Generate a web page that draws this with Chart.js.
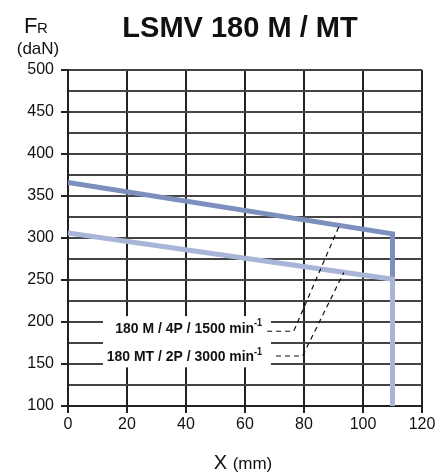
<!DOCTYPE html>
<html>
<head>
<meta charset="utf-8">
<script src="https://cdn.jsdelivr.net/npm/chart.js@4.4.1/dist/chart.umd.min.js"></script>
<style>
  html, body { margin: 0; padding: 0; background: #fff; }
  #c { display: block; }
</style>
</head>
<body>
<canvas id="c" width="447" height="473"></canvas>
<script>
// Données
const title = 'LSMV 180 M / MT';
const xTicks = [0, 20, 40, 60, 80, 100, 120];
const yTicks = [100, 150, 200, 250, 300, 350, 400, 450, 500];

const xPoints = [0, 110, 110];
const fr4p = [366, 305, 252];   // 180 M / 4P / 1500 min-1
const fr2p = [306, 251, 100];   // 180 MT / 2P / 3000 min-1

const seriesLabels = ['180 M / 4P / 1500 min', '180 MT / 2P / 3000 min'];

// lignes de rappel (pointillés) vers les courbes
const leader4pX = [67.5, 76.5, 92];
const leader4pY = [189, 189, 315];
const leader2pX = [70.5, 79.5, 93.5];
const leader2pY = [159.5, 159.5, 259];

function pts(xs, ys) {
    return xs.map((x, i) => ({ x: x, y: ys[i] }));
}

const FONT = "'Liberation Sans', Arial, sans-serif";

// étiquettes dans le graphique (ancre = fin du texte, en coordonnées de données)
const labelAnchors = [
    { x: 65.8, y: 192 },
    { x: 65.8, y: 158.5 }
];

const textPlugin = {
    id: 'textPlugin',
    beforeDatasetsDraw(chart) {
        const ctx = chart.ctx;
        const xs = chart.scales.x, ys = chart.scales.y;
        ctx.save();
        // fond blanc derrière les étiquettes
        ctx.fillStyle = '#fff';
        const top = ys.getPixelForValue(207);
        ctx.fillRect(xs.left + 35, top, 168, ys.getPixelForValue(146) - top);
        ctx.fillStyle = '#111';
        ctx.textBaseline = 'middle';
        labelAnchors.forEach((a, i) => {
            const px = xs.getPixelForValue(a.x);
            const py = ys.getPixelForValue(a.y);
            ctx.save();
            ctx.translate(px, py);
            ctx.scale(0.9, 1);
            ctx.textAlign = 'right';
            ctx.font = 'bold 10px ' + FONT;
            const supW = ctx.measureText('-1').width;
            ctx.fillText('-1', 0, -5);
            ctx.font = 'bold 15.5px ' + FONT;
            ctx.fillText(seriesLabels[i], -supW, 0);
            ctx.restore();
        });
        ctx.restore();
    },
    afterDraw(chart) {
        const ctx = chart.ctx;
        ctx.save();
        ctx.fillStyle = '#111';
        ctx.textBaseline = 'alphabetic';
        // titre
        ctx.font = 'bold 29px ' + FONT;
        ctx.textAlign = 'center';
        ctx.fillText(title, 240, 37);
        // FR (daN)
        ctx.textAlign = 'left';
        ctx.font = '22px ' + FONT;
        ctx.fillText('F', 24, 33);
        ctx.font = '15px ' + FONT;
        ctx.fillText('R', 37, 33);
        ctx.textAlign = 'center';
        ctx.font = '17px ' + FONT;
        ctx.fillText('(daN)', 38, 54);
        // X (mm)
        ctx.textAlign = 'left';
        ctx.font = '20px ' + FONT;
        const wX = ctx.measureText('X ').width;
        ctx.font = '17px ' + FONT;
        const wMm = ctx.measureText('(mm)').width;
        const start = 243 - (wX + wMm) / 2;
        ctx.font = '20px ' + FONT;
        ctx.fillText('X', start, 469);
        ctx.font = '17px ' + FONT;
        ctx.fillText('(mm)', start + wX, 469);
        ctx.restore();
    }
};

const chart = new Chart(document.getElementById('c').getContext('2d'), {
    type: 'line',
    data: {
        datasets: [
            {
                label: seriesLabels[0],
                data: pts(xPoints, fr4p),
                borderColor: '#7d90bd',
                borderWidth: 5,
                pointRadius: 0,
                borderCapStyle: 'butt',
                borderJoinStyle: 'miter',
                tension: 0,
                order: 2
            },
            {
                label: seriesLabels[1],
                data: pts(xPoints, fr2p),
                borderColor: '#a8b5d7',
                borderWidth: 5,
                pointRadius: 0,
                borderCapStyle: 'butt',
                borderJoinStyle: 'miter',
                tension: 0,
                order: 1
            },
            {
                data: pts(leader4pX, leader4pY),
                borderColor: '#111',
                borderWidth: 1.2,
                borderDash: [5, 4],
                pointRadius: 0,
                tension: 0,
                order: 0
            },
            {
                data: pts(leader2pX, leader2pY),
                borderColor: '#111',
                borderWidth: 1.2,
                borderDash: [5, 4],
                pointRadius: 0,
                tension: 0,
                order: 0
            }
        ]
    },
    options: {
        responsive: false,
        animation: false,
        devicePixelRatio: 1,
        layout: { padding: { top: 70, right: 25, left: 0, bottom: 0 } },
        plugins: {
            legend: { display: false },
            tooltip: { enabled: false },
            title: { display: false }
        },
        scales: {
            x: {
                type: 'linear',
                min: xTicks[0],
                max: xTicks[xTicks.length - 1],
                afterFit: s => { s.height = 67; },
                afterBuildTicks: s => { s.ticks = xTicks.map(v => ({ value: v })); },
                ticks: {
                    padding: 2,
                    color: '#111',
                    font: { family: FONT, size: 16 },
                    maxRotation: 0,
                    autoSkip: false
                },
                grid: {
                    color: '#222',
                    lineWidth: 2,
                    tickLength: 7,
                    tickColor: '#222'
                },
                border: { display: true, color: '#222', width: 2 }
            },
            y: {
                type: 'linear',
                min: yTicks[0],
                max: yTicks[yTicks.length - 1],
                afterFit: s => { s.width = 68; },
                ticks: {
                    stepSize: 25,
                    autoSkip: false,
                    padding: 7,
                    color: '#111',
                    font: { family: FONT, size: 16 },
                    callback: v => (yTicks.includes(v) ? String(v) : '')
                },
                grid: {
                    color: '#444',
                    lineWidth: 2,
                    tickLength: 7,
                    tickColor: c => (c.tick && yTicks.includes(c.tick.value) ? '#222' : 'rgba(0,0,0,0)')
                },
                border: { display: true, color: '#222', width: 2 }
            }
        }
    },
    plugins: [textPlugin]
});
</script>
</body>
</html>
